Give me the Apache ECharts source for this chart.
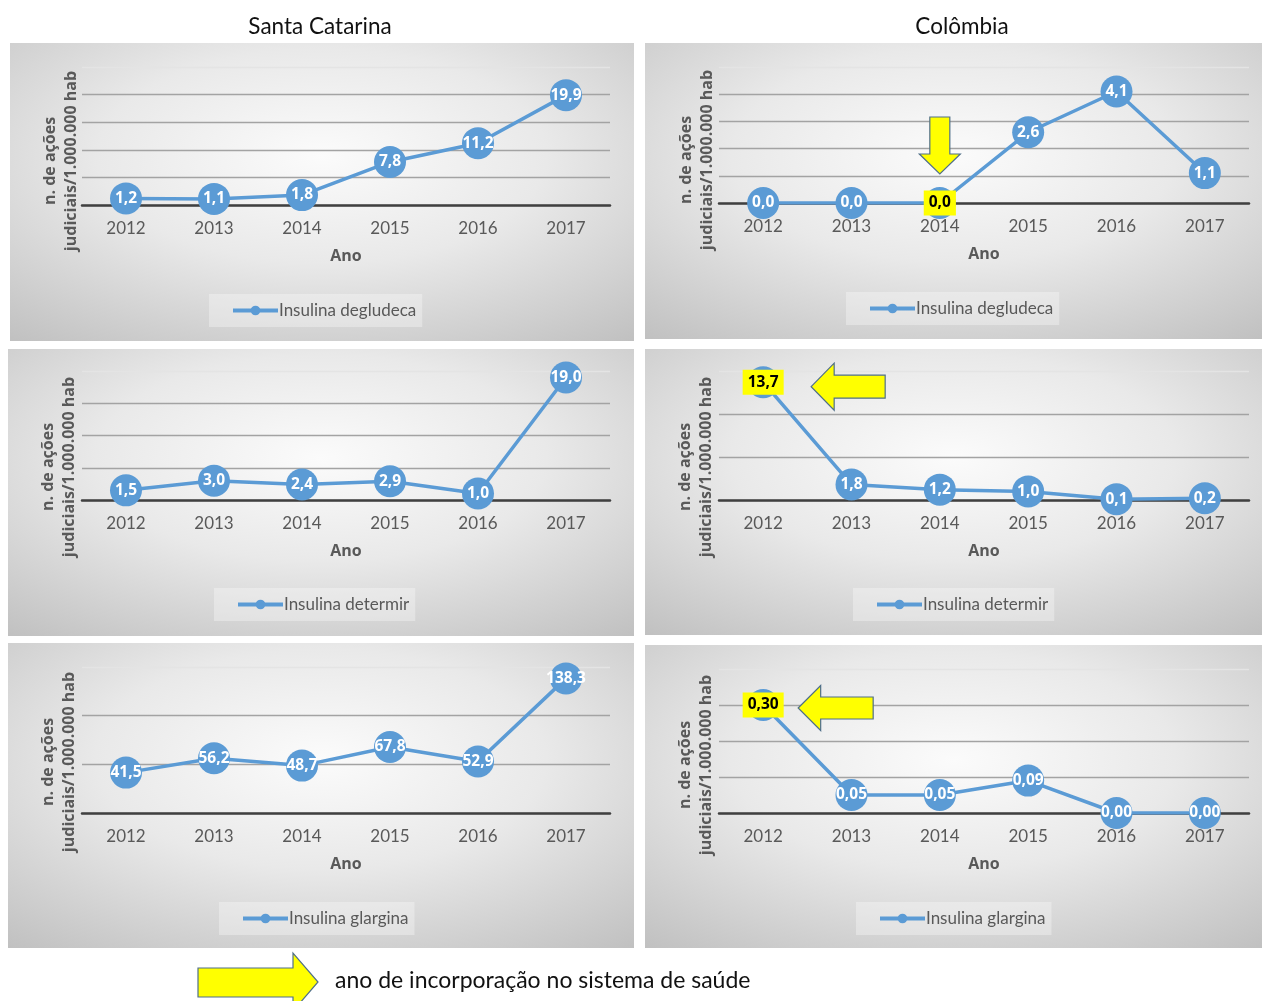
<!DOCTYPE html>
<html>
<head>
<meta charset="utf-8">
<script src="https://cdn.jsdelivr.net/npm/echarts@6/dist/echarts.min.js"></script>
<style>
  html, body { margin: 0; padding: 0; background: #ffffff; }
  #chart { width: 1262px; height: 1001px; }
</style>
</head>
<body>
<div id="chart"></div>
<script>
// Judicial actions per 1,000,000 inhabitants, by year
const years = ['2012', '2013', '2014', '2015', '2016', '2017'];

const scDegludeca = [1.2, 1.1, 1.8, 7.8, 11.2, 19.9];
const coDegludeca = [0.0, 0.0, 0.0, 2.6, 4.1, 1.1];
const scDetermir  = [1.5, 3.0, 2.4, 2.9, 1.0, 19.0];
const coDetermir  = [13.7, 1.8, 1.2, 1.0, 0.1, 0.2];
const scGlargina  = [41.5, 56.2, 48.7, 67.8, 52.9, 138.3];
const coGlargina  = [0.30, 0.05, 0.05, 0.09, 0.00, 0.00];

// Value axis ranges [max, interval]
const scDegludecaAxis = [25, 5];
const coDegludecaAxis = [5, 1];
const scDetermirAxis  = [20, 5];
const coDetermirAxis  = [15, 5];
const scGlarginaAxis  = [150, 50];
const coGlarginaAxis  = [0.4, 0.1];

// Year each insulin was incorporated into the Colombian health system
const coDegludecaIncorporation = '2014';
const coDetermirIncorporation  = '2012';
const coGlarginaIncorporation  = '2012';

const columnTitles = ['Santa Catarina', 'Colômbia'];
const legendKeyText = 'ano de incorporação no sistema de saúde';
const yName = 'n. de ações\njudiciais/1.000.000 hab';
const xName = 'Ano';

const panels = [
  { name: 'Insulina degludeca', values: scDegludeca, axis: scDegludecaAxis, decimals: 1, mark: null },
  { name: 'Insulina degludeca', values: coDegludeca, axis: coDegludecaAxis, decimals: 1, mark: coDegludecaIncorporation, arrow: 'down' },
  { name: 'Insulina determir',  values: scDetermir,  axis: scDetermirAxis,  decimals: 1, mark: null },
  { name: 'Insulina determir',  values: coDetermir,  axis: coDetermirAxis,  decimals: 1, mark: coDetermirIncorporation, arrow: 'left' },
  { name: 'Insulina glargina',  values: scGlargina,  axis: scGlarginaAxis,  decimals: 1, mark: null },
  { name: 'Insulina glargina',  values: coGlargina,  axis: coGlarginaAxis,  decimals: 2, mark: coGlarginaIncorporation, arrow: 'leftSmall' }
];

// Page layout (pixels): panel box, plot area, axis title centre, legend box
const layout = [
  { box: [10, 43, 624, 298],  grid: [82, 67, 528, 138],  yTitle: [60.5, 161], legend: [209, 294] },
  { box: [645, 43, 617, 296], grid: [719, 67, 530, 136], yTitle: [697, 160],  legend: [846, 292] },
  { box: [8, 349, 626, 287],  grid: [82, 371, 528, 129], yTitle: [59, 467],   legend: [214, 588] },
  { box: [645, 349, 617, 286],grid: [719, 371, 530, 129],yTitle: [696, 467],  legend: [853, 588] },
  { box: [8, 643, 626, 305],  grid: [82, 667, 528, 146], yTitle: [59, 762],   legend: [219, 902] },
  { box: [645, 645, 617, 303],grid: [719, 669, 530, 144],yTitle: [696, 765],  legend: [856, 902] }
];

const FONT = 'Lato, "Open Sans", sans-serif';
const BOLD_FONT = '"Open Sans", Lato, sans-serif';
const BLUE = '#5B9BD5';
const AXIS_TEXT = '#595959';

const grids = [], xAxes = [], yAxes = [], series = [], legends = [], baseGraphics = [];

panels.forEach((p, i) => {
  const L = layout[i];
  const [gx, gy, gw, gh] = L.grid;
  grids.push({ left: gx, top: gy, width: gw, height: gh, containLabel: false });

  xAxes.push({
    gridIndex: i, type: 'category', data: years, boundaryGap: true,
    axisLine: { show: true, lineStyle: { color: '#404040', width: 2.5 } },
    axisTick: { show: false },
    axisLabel: { color: AXIS_TEXT, fontSize: 17, fontFamily: FONT, margin: 15 },
    name: xName, nameLocation: 'middle', nameGap: 43,
    nameTextStyle: { color: AXIS_TEXT, fontSize: 16, fontWeight: 'bold', fontFamily: BOLD_FONT },
    splitLine: { show: false }
  });

  const [max, interval] = p.axis;
  const nLines = Math.round(max / interval) + 1;
  const lineColors = Array.from({ length: nLines }, (_, k) => k === nLines - 1 ? '#e4e4e4' : '#a3a3a3');
  yAxes.push({
    gridIndex: i, type: 'value', min: 0, max: max, interval: interval,
    axisLine: { show: false }, axisTick: { show: false }, axisLabel: { show: false },
    splitLine: { show: true, lineStyle: { color: lineColors, width: 1.3 } }
  });

  const data = p.values.map((v, k) => {
    if (p.mark && years[k] === p.mark) {
      return {
        value: v,
        label: {
          color: '#000000', backgroundColor: '#ffff00',
          padding: [5, 5, 4, 5]
        }
      };
    }
    return v;
  });

  series.push({
    name: p.name, type: 'line', xAxisIndex: i, yAxisIndex: i,
    data: data,
    symbol: 'circle', symbolSize: 32,
    itemStyle: { color: BLUE },
    lineStyle: { color: BLUE, width: 3.5 },
    label: {
      show: true, position: 'inside',
      color: '#ffffff', fontSize: 15.5, fontWeight: 'bold', fontFamily: BOLD_FONT,
      formatter: (q) => Number(q.value).toFixed(p.decimals).replace('.', ',')
    },
    emphasis: { disabled: true },
    animation: false
  });

  legends.push({
    data: [p.name],
    left: L.legend[0], top: L.legend[1],
    orient: 'horizontal',
    itemWidth: 45, itemHeight: 12, itemGap: 4,
    padding: [8, 6, 8, 22],
    backgroundColor: 'rgba(255,255,255,0.32)',
    lineStyle: { width: 4 },
    textStyle: { color: AXIS_TEXT, fontSize: 17, fontFamily: FONT, padding: [0, 0, 0, -4] },
    selectedMode: false
  });

  // Panel background with soft radial shading
  const [bx, by, bw, bh] = L.box;
  baseGraphics.push({
    type: 'rect', z: -10, x: bx, y: by, scaleX: bw / bh,
    shape: { x: 0, y: 0, width: bh, height: bh },
    style: {
      fill: {
        type: 'radial', x: 0.5, y: 0.38, r: 0.8,
        colorStops: [
          { offset: 0, color: '#fbfbfb' },
          { offset: 0.45, color: '#e9e9e9' },
          { offset: 1, color: '#c0c0c0' }
        ]
      }
    },
    silent: true
  });

  // Value-axis title
  baseGraphics.push({
    type: 'text', z: 5, x: L.yTitle[0], y: L.yTitle[1], rotation: Math.PI / 2,
    style: {
      text: yName, align: 'center', verticalAlign: 'middle', lineHeight: 21,
      fontSize: 16, fontWeight: 'bold', fontFamily: BOLD_FONT, fill: AXIS_TEXT
    },
    silent: true
  });
});

// Column titles
baseGraphics.push(
  { type: 'text', x: 320, y: 27, style: { text: columnTitles[0], align: 'center', verticalAlign: 'middle', fontSize: 22.5, fontFamily: FONT, fill: '#111111' } },
  { type: 'text', x: 962, y: 27, style: { text: columnTitles[1], align: 'center', verticalAlign: 'middle', fontSize: 22.5, fontFamily: FONT, fill: '#111111' } }
);

// Key: yellow arrow marks the incorporation year
const ARROW_FILL = '#ffff00';
const ARROW_STROKE = '#4f6f8a';
baseGraphics.push(
  {
    type: 'polygon', z: 20,
    shape: { points: [[198, 968], [293, 968], [293, 953], [318, 982], [293, 1011], [293, 997], [198, 997]] },
    style: { fill: ARROW_FILL, stroke: ARROW_STROKE, lineWidth: 1.2 }
  },
  {
    type: 'text', x: 335, y: 981,
    style: { text: legendKeyText, align: 'left', verticalAlign: 'middle', fontSize: 23, fontFamily: FONT, fill: '#111111' }
  }
);

const chart = echarts.init(document.getElementById('chart'), null, { renderer: 'canvas' });
chart.setOption({
  animation: false,
  backgroundColor: '#ffffff',
  grid: grids, xAxis: xAxes, yAxis: yAxes, series: series, legend: legends,
  graphic: baseGraphics
});

// Arrow outlines relative to the highlighted point
const arrowShapes = {
  down:      [[-10, -86], [10, -86], [10, -49], [20.5, -49], [0, -29], [-20.5, -49], [-10, -49]],
  left:      [[48, 4.5], [71, -19], [71, -7], [122, -7], [122, 16], [71, 16], [71, 28]],
  leftSmall: [[35, 3], [57.5, -19.5], [57.5, -8], [110, -8], [110, 14], [57.5, 14], [57.5, 25.5]]
};

const arrowGraphics = [];
panels.forEach((p, i) => {
  if (!p.mark) return;
  const k = years.indexOf(p.mark);
  const pt = chart.convertToPixel({ seriesIndex: i }, [k, p.values[k]]);
  arrowGraphics.push({
    type: 'polygon', z: 20,
    shape: { points: arrowShapes[p.arrow].map(([dx, dy]) => [pt[0] + dx, pt[1] + dy]) },
    style: { fill: ARROW_FILL, stroke: ARROW_STROKE, lineWidth: 1.2 }
  });
});

chart.setOption({ graphic: baseGraphics.concat(arrowGraphics) }, { replaceMerge: ['graphic'] });
</script>
</body>
</html>
